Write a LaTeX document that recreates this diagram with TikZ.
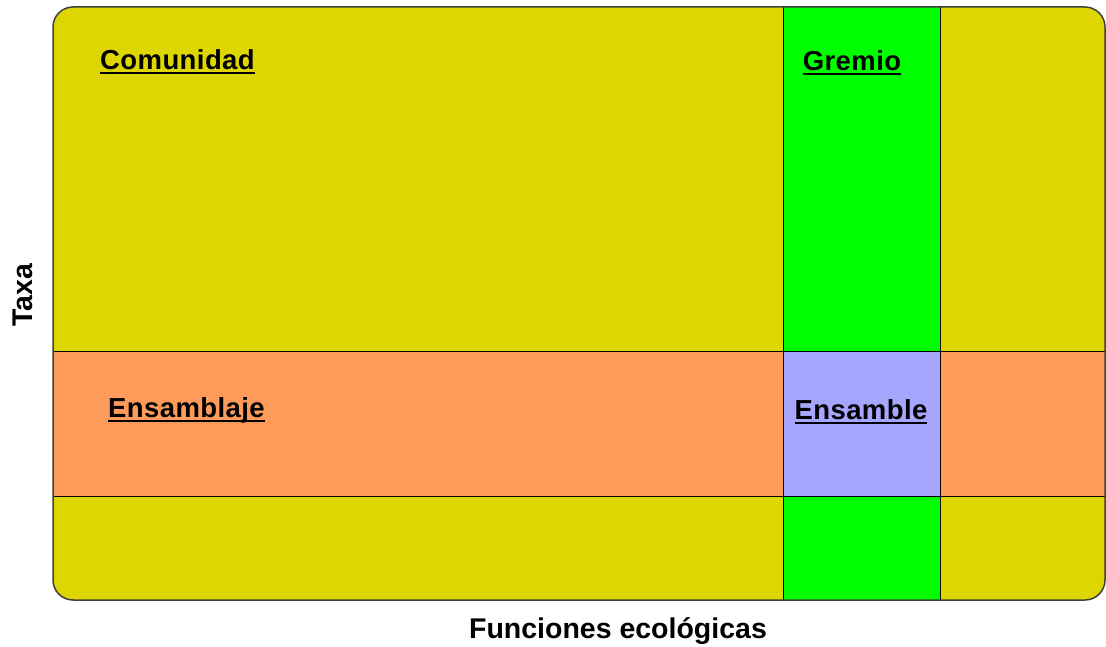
\documentclass[tikz,border=0pt]{standalone}
\usepackage{fontspec}
\setmainfont{Liberation Sans}
\definecolor{yel}{RGB}{222,214,0}
\definecolor{ora}{RGB}{255,155,90}
\definecolor{grn}{RGB}{0,255,0}
\definecolor{lav}{RGB}{166,166,255}
\newcommand\ulbox[1]{\setbox0\hbox{#1}\rlap{\rule[-4.5pt]{\wd0}{2pt}}\box0}
\tikzset{
  lbl/.style={inner sep=0pt, font=\fontsize{27.5}{30}\selectfont\bfseries\addfontfeatures{LetterSpace=1.5}},
  axis/.style={inner sep=0pt, font=\fontsize{28.5}{30}\selectfont\bfseries},
  cell/.style={draw=black, line width=1pt}
}
\begin{document}
\begin{tikzpicture}[x=1pt,y=-1pt]
\useasboundingbox (0,0) rectangle (1106,647);
% background rounded rect
\fill[yel, rounded corners=20pt] (53,7) rectangle (1105,600);
\fill[ora] (53,351) rectangle (1105,496);
\fill[grn] (783,7) rectangle (940,600);
\fill[lav] (783,351) rectangle (940,496);
\draw[black, line width=1pt] (53,351) -- (1105,351);
\draw[black, line width=1pt] (53,496) -- (1105,496);
\draw[black, line width=1pt] (783,7) -- (783,600);
\draw[black, line width=1pt] (940,7) -- (940,600);
\draw[black!75, line width=1.5pt, rounded corners=20pt] (53,7) rectangle (1105,600);
% labels
\node[lbl, anchor=base west] (com) at (100,70) {\ulbox{Comunidad}};
\node[lbl, anchor=base] (gre) at (852,71) {\ulbox{Gremio}};
\node[lbl, anchor=base west] (ensj) at (108,417) {\ulbox{Ensamblaje}};
\node[lbl, anchor=base] (ens) at (861,419) {\ulbox{Ensamble}};
\node[axis, anchor=base] (fun) at (618,638) {Funciones ecológicas};
\node[axis, rotate=90, anchor=base] (tax) at (32,295) {Taxa};
\end{tikzpicture}
\end{document}
